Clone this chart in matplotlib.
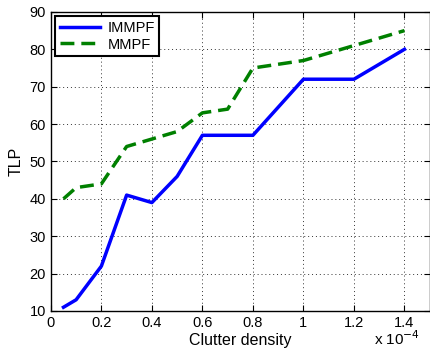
import matplotlib
matplotlib.use("Agg")
import matplotlib.pyplot as plt

plt.rcParams['font.family'] = ['Liberation Sans', 'DejaVu Sans']

# clutter density (x 1e-4)
x_immpf = [0.05, 0.1, 0.2, 0.3, 0.4, 0.5, 0.6, 0.8, 1.0, 1.2, 1.4]
tlp_immpf = [11, 13, 22, 41, 39, 46, 57, 57, 72, 72, 80]

x_mmpf = [0.05, 0.1, 0.2, 0.3, 0.4, 0.5, 0.6, 0.7, 0.8, 1.0, 1.2, 1.4]
tlp_mmpf = [40, 43, 44, 54, 56, 58, 63, 64, 75, 77, 81, 85]

xticks = [0, 0.2, 0.4, 0.6, 0.8, 1, 1.2, 1.4]
xtick_labels = ["0", "0.2", "0.4", "0.6", "0.8", "1", "1.2", "1.4"]
yticks = [10, 20, 30, 40, 50, 60, 70, 80, 90]

fig = plt.figure(figsize=(4.31, 3.51), dpi=100)
ax = fig.add_axes([0.118, 0.114, 0.879, 0.852])

ax.plot(x_immpf, tlp_immpf, color="#0000ff", lw=2.5, label="IMMPF")
ax.plot(x_mmpf, tlp_mmpf, color="#008000", lw=2.5, ls="--", dashes=(4, 2), label="MMPF")

ax.set_xlim(0, 1.5)
ax.set_ylim(10, 90)
ax.set_xticks(xticks)
ax.set_xticklabels(xtick_labels)
ax.set_yticks(yticks)
ax.tick_params(direction="in", top=True, right=True, labelsize=10.5, length=4)
ax.grid(color="#333333", linestyle=(0, (1, 3)), linewidth=0.7)

ax.set_xlabel("Clutter density", fontsize=11.5, labelpad=2)
ax.set_ylabel("TLP", fontsize=11.5, labelpad=4)
ax.text(0.975, -0.06, r"x 10$^{-4}$", transform=ax.transAxes, ha="right",
        va="top", fontsize=11)

leg = ax.legend(loc="upper left", fontsize=10.5, fancybox=False,
                framealpha=1, edgecolor="black", handlelength=2.8,
                handletextpad=0.5, borderaxespad=0.3, borderpad=0.3,
                labelspacing=0.2)
leg.get_frame().set_linewidth(1.5)

for s in ax.spines.values():
    s.set_linewidth(1.0)

plt.savefig("out.png", dpi=100)
